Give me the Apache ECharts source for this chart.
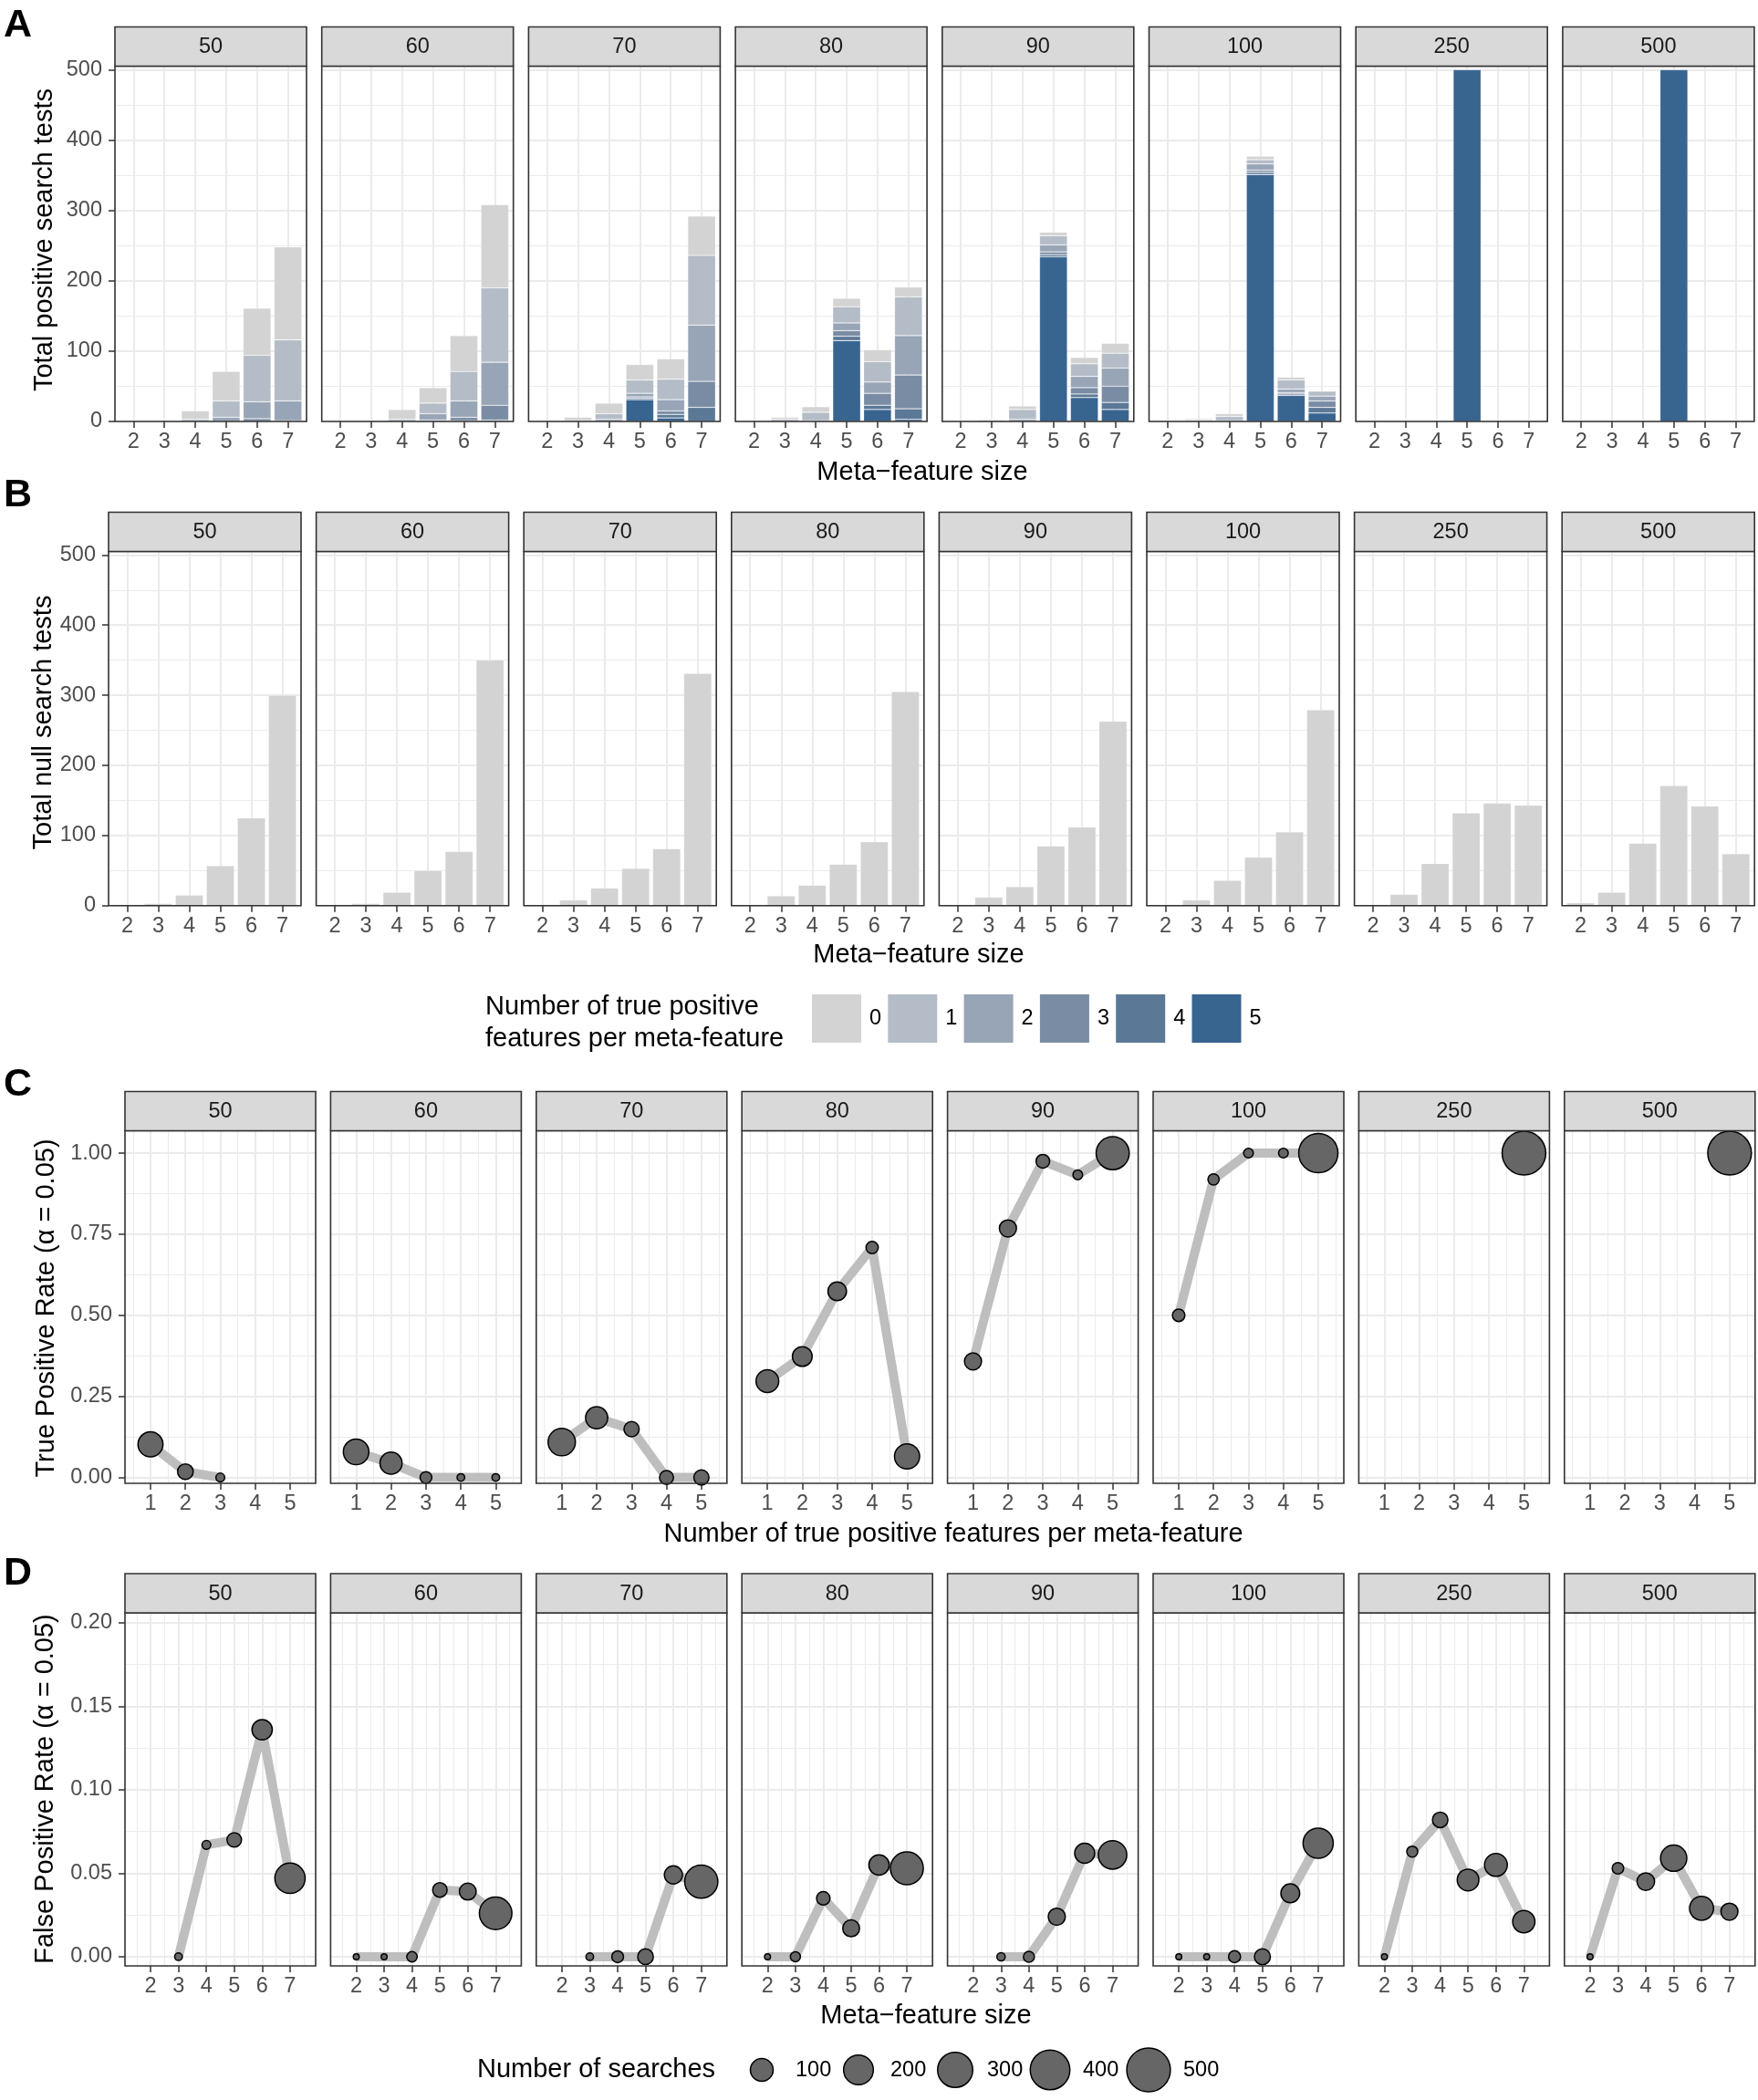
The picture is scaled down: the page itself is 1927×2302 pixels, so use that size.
<!DOCTYPE html>
<html>
<head>
<meta charset="utf-8">
<title>Meta-feature search tests</title>
<script src="https://cdn.jsdelivr.net/npm/echarts@6/dist/echarts.min.js"></script>
<style>
  html, body { margin: 0; padding: 0; background: #ffffff; }
  #chart { width: 1927px; height: 2302px; }
</style>
</head>
<body>
<div id="chart"></div>
<script>
// ---- data ----
const facets = ['50', '60', '70', '80', '90', '100', '250', '500'];
const metaSizes = [2, 3, 4, 5, 6, 7];
const tpCounts = [1, 2, 3, 4, 5];
const tpLevels = ['0', '1', '2', '3', '4', '5'];
const searchBreaks = [100, 200, 300, 400, 500];

// tick labels
const countTicks = [0, 100, 200, 300, 400, 500];
const countMinor = [50, 150, 250, 350, 450];
const tprTicks = [0, 0.25, 0.5, 0.75, 1];
const tprMinor = [0.125, 0.375, 0.625, 0.875];
const fprTicks = [0, 0.05, 0.1, 0.15, 0.2];
const fprMinor = [0.025, 0.075, 0.125, 0.175];
const tpMinor = [0.5, 1.5, 2.5, 3.5, 4.5, 5.5];
const sizeMinor = [1.5, 2.5, 3.5, 4.5, 5.5, 6.5, 7.5];

// panel A: positive search tests, split by number of true positive features
// rows = facet, columns = meta-feature size 2..7
const posTp0 = [
  [0, 0, 12, 42, 67, 132],
  [0, 0, 14, 22, 51, 118],
  [0, 5, 15, 22, 29, 56],
  [0, 3, 8, 12, 17, 14],
  [0, 1, 5, 5, 9, 14],
  [0, 2, 4, 5, 4, 1],
  [0, 0, 0, 0, 0, 0],
  [0, 0, 0, 0, 0, 0]
];
const posTp1 = [
  [0, 0, 3, 23, 66, 87],
  [0, 0, 3, 15, 42, 106],
  [0, 1, 8, 19, 29, 99],
  [0, 3, 12, 23, 29, 55],
  [0, 2, 14, 13, 18, 21],
  [0, 2, 6, 6, 13, 7],
  [0, 0, 0, 0, 0, 0],
  [0, 0, 0, 0, 0, 0]
];
const posTp2 = [
  [0, 0, 0, 6, 24, 28],
  [0, 0, 0, 9, 23, 61],
  [0, 0, 3, 5, 16, 80],
  [0, 0, 1, 11, 16, 56],
  [0, 0, 3, 10, 16, 26],
  [0, 0, 1, 9, 5, 7],
  [0, 0, 0, 0, 0, 0],
  [0, 0, 0, 0, 0, 0]
];
const posTp3 = [
  [0, 0, 0, 0, 4, 1],
  [0, 0, 0, 2, 5, 21],
  [0, 0, 0, 2, 5, 37],
  [0, 0, 0, 8, 17, 48],
  [0, 0, 0, 4, 9, 23],
  [0, 0, 0, 3, 2, 9],
  [0, 0, 0, 0, 0, 0],
  [0, 0, 0, 0, 0, 0]
];
const posTp4 = [
  [0, 0, 0, 0, 0, 0],
  [0, 0, 0, 0, 1, 2],
  [0, 0, 0, 2, 5, 20],
  [0, 0, 0, 6, 6, 15],
  [0, 0, 0, 3, 5, 10],
  [0, 0, 0, 3, 2, 8],
  [0, 0, 0, 0, 0, 0],
  [0, 0, 0, 0, 0, 0]
];
const posTp5 = [
  [0, 0, 0, 0, 0, 0],
  [0, 0, 0, 0, 0, 0],
  [0, 0, 0, 31, 5, 0],
  [0, 0, 0, 115, 17, 3],
  [0, 0, 0, 234, 34, 17],
  [0, 0, 0, 351, 37, 12],
  [0, 0, 0, 500, 0, 0],
  [0, 0, 0, 500, 0, 0]
];

// panel B: null search tests
const nullTests = [
  [0, 3, 15, 57, 125, 300],
  [0, 3, 19, 50, 77, 350],
  [0, 8, 25, 53, 81, 331],
  [1, 14, 29, 59, 91, 305],
  [0, 12, 27, 85, 112, 263],
  [0, 8, 36, 69, 105, 279],
  [0, 16, 60, 132, 146, 143],
  [4, 19, 89, 171, 142, 74]
];

// panel C: true positive rate by number of true positive features (1..5)
const tprRate = [
  [0.102, 0.018, 0.000, null, null],
  [0.079, 0.044, 0.000, 0.000, 0.000],
  [0.109, 0.184, 0.149, 0.000, 0.000],
  [0.297, 0.373, 0.574, 0.709, 0.065],
  [0.358, 0.768, 0.975, 0.933, 1.000],
  [0.500, 0.919, 1.000, 1.000, 1.000],
  [null, null, null, null, 1.000],
  [null, null, null, null, 1.000]
];
const tprSearches = [
  [128, 33, 3, null, null],
  [135, 92, 12, 1, 1],
  [161, 92, 30, 23, 30],
  [99, 67, 56, 14, 129],
  [44, 44, 21, 5, 259],
  [15, 10, 5, 5, 390],
  [null, null, null, null, 500],
  [null, null, null, null, 500]
];

// panel D: false positive rate by meta-feature size (2..7)
const fprRate = [
  [null, 0.000, 0.067, 0.070, 0.136, 0.047],
  [0.000, 0.000, 0.000, 0.040, 0.039, 0.026],
  [null, 0.000, 0.000, 0.000, 0.049, 0.045],
  [0.000, 0.000, 0.035, 0.017, 0.055, 0.053],
  [null, 0.000, 0.000, 0.024, 0.062, 0.061],
  [0.000, 0.000, 0.000, 0.000, 0.038, 0.068],
  [0.000, 0.063, 0.082, 0.046, 0.055, 0.021],
  [0.000, 0.053, 0.045, 0.059, 0.029, 0.027]
];
const fprSearches = [
  [null, 1, 3, 26, 73, 208],
  [0, 0, 7, 26, 42, 249],
  [null, 1, 12, 33, 52, 261],
  [0, 6, 20, 42, 73, 254],
  [null, 2, 9, 44, 69, 179],
  [0, 0, 13, 35, 58, 207],
  [0, 9, 32, 87, 100, 94],
  [0, 11, 48, 145, 114, 44]
];

// ---- styling / layout ----
const FONT = '"Liberation Sans", Arial, Helvetica, sans-serif';
const levelColors = ['#D3D3D3', '#B4BCC7', '#98A5B6', '#7A8CA4', '#5B7896', '#386490'];
const GRID_COLOR = '#EBEBEB';
const INK = '#333333';
const STRIP_H = 43;
const TICK_FS = 23.5;
const TITLE_FS = 29;

const layout = {
  A: { left: 126, step: 226.7, width: 210, top: 72.5, height: 389.5 },
  B: { left: 119, step: 227.6, width: 211, top: 604.5, height: 388.2 },
  C: { left: 137, step: 225.4, width: 209, top: 1239.5, height: 386.5 },
  D: { left: 137, step: 225.4, width: 209, top: 1768, height: 387 }
};

const posByLevel = [posTp0, posTp1, posTp2, posTp3, posTp4, posTp5];

function symbolDiameter(n) {
  return 6.5 + 1.85 * Math.sqrt(n);
}

const option = {
  animation: false,
  backgroundColor: '#FFFFFF',
  textStyle: { fontFamily: FONT },
  grid: [],
  xAxis: [],
  yAxis: [],
  series: [],
  graphic: { elements: [] }
};
const gfx = option.graphic.elements;

function minorAxis(g, range, values, pos) {
  return {
    type: 'value', gridIndex: g, position: pos, min: range[0], max: range[1],
    axisLine: { show: false, onZero: false },
    axisTick: { show: false, customValues: values },
    axisLabel: { show: false, customValues: values },
    splitLine: { show: true, lineStyle: { color: GRID_COLOR, width: 1 } },
    silent: true
  };
}

function majorAxis(g, range, values, pos, showLabels, fmt) {
  return {
    type: 'value', gridIndex: g, position: pos, min: range[0], max: range[1],
    axisLine: { show: false, onZero: false },
    axisTick: { show: showLabels, customValues: values, length: 7, lineStyle: { color: INK, width: 1.5 } },
    axisLabel: {
      show: showLabels, customValues: values, margin: pos === 'bottom' ? 11 : 14,
      fontSize: TICK_FS, color: '#4D4D4D', fontFamily: FONT,
      formatter: fmt || (v => String(v))
    },
    splitLine: { show: true, lineStyle: { color: GRID_COLOR, width: 2 } },
    silent: true
  };
}

function addPanel(rowKey, i, spec) {
  const L = layout[rowKey];
  const left = L.left + i * L.step;
  const g = option.grid.length;
  option.grid.push({ left: left, top: L.top, width: L.width, height: L.height, show: false });
  if (spec.xMinor) option.xAxis.push(minorAxis(g, spec.xRange, spec.xMinor, 'top'));
  if (spec.yMinor) option.yAxis.push(minorAxis(g, spec.yRange, spec.yMinor, 'right'));
  const xi = option.xAxis.length;
  option.xAxis.push(majorAxis(g, spec.xRange, spec.xTicks, 'bottom', true, null));
  const yi = option.yAxis.length;
  option.yAxis.push(majorAxis(g, spec.yRange, spec.yTicks, 'left', i === 0, spec.yFmt));

  // panel border on top of the data, strip above
  gfx.push({
    type: 'rect', z: 100, silent: true,
    shape: { x: left, y: L.top, width: L.width, height: L.height },
    style: { fill: 'none', stroke: INK, lineWidth: 1.6 }
  });
  gfx.push({
    type: 'rect', z: 100, silent: true,
    shape: { x: left, y: L.top - STRIP_H, width: L.width, height: STRIP_H },
    style: { fill: '#D9D9D9', stroke: INK, lineWidth: 1.6 }
  });
  gfx.push({
    type: 'text', z: 101, silent: true,
    x: left + L.width / 2, y: L.top - STRIP_H / 2 + 1,
    style: {
      text: facets[i], fontSize: TICK_FS, fontFamily: FONT, fill: '#1A1A1A',
      align: 'center', verticalAlign: 'middle', textAlign: 'center', textVerticalAlign: 'middle'
    }
  });
  return { xi: xi, yi: yi, width: L.width };
}

function addText(text, x, y, opts) {
  opts = opts || {};
  gfx.push({
    type: 'text', z: 101, silent: true, x: x, y: y, rotation: opts.rotation || 0,
    style: {
      text: text, fontSize: opts.size || TITLE_FS, fontFamily: FONT,
      fontWeight: opts.weight || 'normal', fill: opts.color || '#000000',
      align: opts.align || 'center', verticalAlign: 'middle',
      textAlign: opts.align || 'center', textVerticalAlign: 'middle',
      lineHeight: opts.lineHeight
    }
  });
}

const countRange = [0, 505];
const barRange = [1.4, 7.6];
const BAR_EDGE = 'rgba(255,255,255,0.3)';

// bar item; zero-height bars get no outline
function barItem(value, size) {
  return { value: [value, size], itemStyle: { borderWidth: value > 0 ? 0.7 : 0 } };
}

facets.forEach((f, i) => {
  // A: stacked positive search tests (count column first so the count is the stacked dimension)
  const pa = addPanel('A', i, { xRange: barRange, yRange: countRange, xTicks: metaSizes, yTicks: countTicks, yMinor: countMinor });
  const bw = 0.9 * pa.width / (barRange[1] - barRange[0]);
  for (let lv = tpLevels.length - 1; lv >= 0; lv--) {
    option.series.push({
      type: 'bar', name: tpLevels[lv], xAxisIndex: pa.xi, yAxisIndex: pa.yi,
      stack: 'pos' + i, barWidth: bw, silent: true,
      dimensions: ['count', 'size'],
      encode: { x: 'size', y: 'count' },
      itemStyle: { color: levelColors[lv], borderColor: BAR_EDGE, borderWidth: 0.7 },
      data: metaSizes.map((s, k) => barItem(posByLevel[lv][i][k], s))
    });
  }

  // B: null search tests
  const pb = addPanel('B', i, { xRange: barRange, yRange: countRange, xTicks: metaSizes, yTicks: countTicks, yMinor: countMinor });
  option.series.push({
    type: 'bar', xAxisIndex: pb.xi, yAxisIndex: pb.yi, silent: true,
    barWidth: 0.9 * pb.width / (barRange[1] - barRange[0]),
    dimensions: ['count', 'size'],
    encode: { x: 'size', y: 'count' },
    itemStyle: { color: levelColors[0], borderColor: BAR_EDGE, borderWidth: 0.7 },
    data: metaSizes.map((s, k) => barItem(nullTests[i][k], s))
  });

  // C: true positive rate
  const pc = addPanel('C', i, {
    xRange: [0.27, 5.73], yRange: [-0.018, 1.069], xTicks: tpCounts, yTicks: tprTicks,
    xMinor: tpMinor, yMinor: tprMinor, yFmt: v => v.toFixed(2)
  });
  const cPts = tpCounts.map((x, k) => [x, tprRate[i][k], tprSearches[i][k]]).filter(d => d[1] !== null);
  option.series.push({
    type: 'line', xAxisIndex: pc.xi, yAxisIndex: pc.yi, silent: true, clip: false,
    showSymbol: false, z: 2,
    lineStyle: { color: '#BEBEBE', width: 10, join: 'round', cap: 'butt' },
    data: cPts.map(d => [d[0], d[1]])
  });
  option.series.push({
    type: 'scatter', xAxisIndex: pc.xi, yAxisIndex: pc.yi, silent: true, clip: false, z: 3,
    symbol: 'circle', symbolSize: v => symbolDiameter(v[2]),
    itemStyle: { color: '#666666', borderColor: '#000000', borderWidth: 1.5, opacity: 1 },
    data: cPts
  });

  // D: false positive rate
  const pd = addPanel('D', i, {
    xRange: [1.08, 7.92], yRange: [-0.0055, 0.206], xTicks: metaSizes, yTicks: fprTicks,
    xMinor: sizeMinor, yMinor: fprMinor, yFmt: v => v.toFixed(2)
  });
  const dPts = metaSizes.map((x, k) => [x, fprRate[i][k], fprSearches[i][k]]).filter(d => d[1] !== null);
  option.series.push({
    type: 'line', xAxisIndex: pd.xi, yAxisIndex: pd.yi, silent: true, clip: false,
    showSymbol: false, z: 2,
    lineStyle: { color: '#BEBEBE', width: 10, join: 'round', cap: 'butt' },
    data: dPts.map(d => [d[0], d[1]])
  });
  option.series.push({
    type: 'scatter', xAxisIndex: pd.xi, yAxisIndex: pd.yi, silent: true, clip: false, z: 3,
    symbol: 'circle', symbolSize: v => symbolDiameter(v[2]),
    itemStyle: { color: '#666666', borderColor: '#000000', borderWidth: 1.5, opacity: 1 },
    data: dPts
  });
});

// panel letters
addText('A', 4, 28, { size: 43, weight: 'bold', align: 'left' });
addText('B', 4, 543, { size: 43, weight: 'bold', align: 'left' });
addText('C', 4, 1189, { size: 43, weight: 'bold', align: 'left' });
addText('D', 4, 1725, { size: 43, weight: 'bold', align: 'left' });

// axis titles
addText('Meta\u2212feature size', 1011, 518);
addText('Meta\u2212feature size', 1007, 1047);
addText('Number of true positive features per meta-feature', 1045, 1682);
addText('Meta\u2212feature size', 1015, 2210);
addText('Total positive search tests', 49, 263, { rotation: Math.PI / 2 });
addText('Total null search tests', 48, 792, { rotation: Math.PI / 2 });
addText('True Positive Rate (\u03b1 = 0.05)', 51, 1434, { rotation: Math.PI / 2 });
addText('False Positive Rate (\u03b1 = 0.05)', 50, 1961, { rotation: Math.PI / 2 });

// fill legend
addText('Number of true positive\nfeatures per meta-feature', 532, 1121, { align: 'left', lineHeight: 35 });
tpLevels.forEach((lab, k) => {
  const x0 = 890 + k * 83.3;
  gfx.push({
    type: 'rect', z: 100, silent: true,
    shape: { x: x0, y: 1090, width: 54, height: 53 },
    style: { fill: levelColors[k] }
  });
  addText(lab, x0 + 63, 1117, { size: TICK_FS, align: 'left' });
});

// size legend
addText('Number of searches', 523, 2269, { align: 'left' });
const sizeKeyX = [835, 941, 1047, 1151, 1259];
const sizeLabelX = [872, 976, 1082, 1187, 1297];
searchBreaks.forEach((n, k) => {
  gfx.push({
    type: 'circle', z: 100, silent: true,
    shape: { cx: sizeKeyX[k], cy: 2269, r: symbolDiameter(n) / 2 },
    style: { fill: '#666666', stroke: '#000000', lineWidth: 1.5 }
  });
  addText(String(n), sizeLabelX[k], 2270, { size: TICK_FS, align: 'left' });
});

const chart = echarts.init(document.getElementById('chart'), null, { renderer: 'canvas' });
chart.setOption(option);
</script>
</body>
</html>
